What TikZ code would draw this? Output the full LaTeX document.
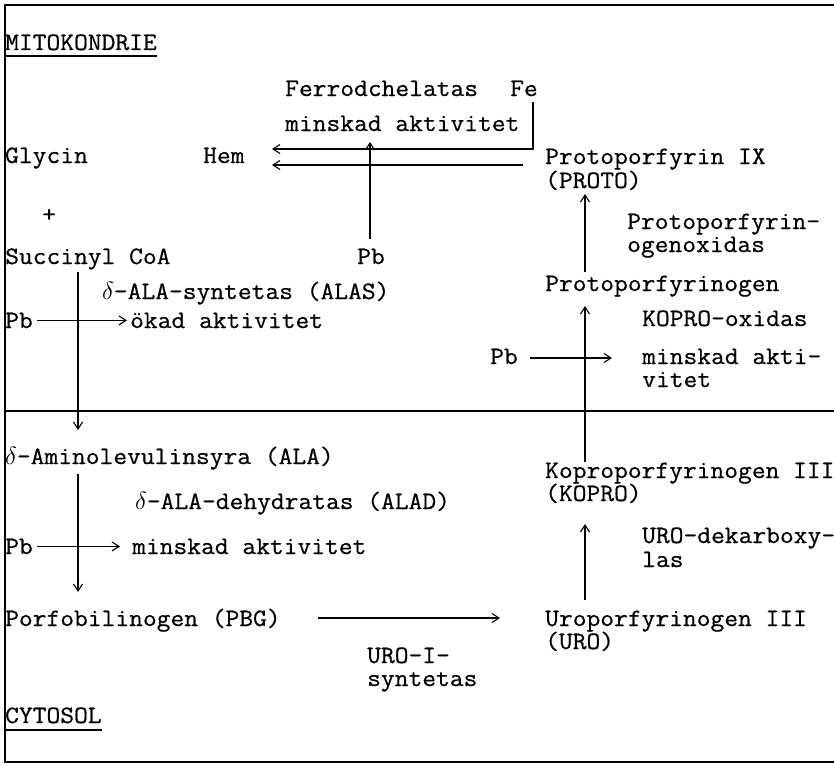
\documentclass[tikz,border=0pt]{standalone}
\usepackage{fontspec}
\newfontfamily\tw[FakeStretch=1.07,FakeBold=0.6]{Latin Modern Mono}
\usetikzlibrary{arrows.meta}
\begin{document}
\begin{tikzpicture}[x=1pt,y=-1pt,
  lbl/.style={anchor=base west, inner sep=0pt, font=\tw\fontsize{25}{27}\selectfont},
  border/.style={line width=1.8pt},
  arr/.style={line width=1.1pt, -{Straight Barb[length=7pt,width=9pt,line width=1.1pt]}},
  plain/.style={line width=1.1pt}]
\useasboundingbox[fill=white] (0,0) rectangle (834,765);
% frame
\draw[border] (834,5) -- (5,5) -- (5,762) -- (834,762);
\draw[border] (5,411) -- (834,411);
% texts
\node[lbl] (mito) at (5,50) {MITOKONDRIE};
\draw[plain] ([yshift=-6pt]mito.base west) -- ([yshift=-6pt]mito.base east);
\node[lbl] (ferro) at (285,96) {Ferrodchelatas};
\node[lbl] (fe) at (510,96) {Fe};
\node[lbl] (mink1) at (285,131) {minskad aktivitet};
\node[lbl] (glycin) at (5,163) {Glycin};
\node[lbl] (hem) at (203,163) {Hem};
\node[lbl] (proto) at (545,164) {Protoporfyrin IX};
\node[lbl] (protob) at (545,188) {(PROTO)};
\node[lbl] (plus) at (42,222) {+};
\node[lbl] (pb1) at (357,264) {Pb};
\node[lbl] (ppox1) at (627,229) {Protoporfyrin-};
\node[lbl] (ppox2) at (627,252) {ogenoxidas};
\node[lbl] (succ) at (5,264) {Succinyl CoA};
\node[lbl] (alas) at (102,299) {$\delta$-ALA-syntetas (ALAS)};
\node[lbl] (protogen) at (545,291) {Protoporfyrinogen};
\node[lbl] (pb2) at (5,328) {Pb};
\node[lbl] (okad) at (130,328) {ökad aktivitet};
\node[lbl] (koprox) at (642,326) {KOPRO-oxidas};
\node[lbl] (pb3) at (490,364) {Pb};
\node[lbl] (mink3a) at (642,364) {minskad akti-};
\node[lbl] (mink3b) at (642,387) {vitet};
\node[lbl] (ala) at (5,464) {$\delta$-Aminolevulinsyra (ALA)};
\node[lbl] (kopro) at (545,478) {Koproporfyrinogen III};
\node[lbl] (koprob) at (545,501) {(KOPRO)};
\node[lbl] (alad) at (135,509) {$\delta$-ALA-dehydratas (ALAD)};
\node[lbl] (urodek) at (642,543) {URO-dekarboxy-};
\node[lbl] (urodek2) at (642,567) {las};
\node[lbl] (pb4) at (5,554) {Pb};
\node[lbl] (mink4) at (132,554) {minskad aktivitet};
\node[lbl] (pbg) at (5,626) {Porfobilinogen (PBG)};
\node[lbl] (uro) at (545,626) {Uroporfyrinogen III};
\node[lbl] (urob) at (545,649) {(URO)};
\node[lbl] (uroi1) at (367,663) {URO-I-};
\node[lbl] (uroi2) at (367,686) {syntetas};
\node[lbl] (cyto) at (5,723) {CYTOSOL};
\draw[plain] ([yshift=-7pt]cyto.base west) -- ([yshift=-7pt]cyto.base east);
% coordinates for arrow ends
\coordinate (a1s) at (78,272);
\coordinate (a1e) at (78,430);
\coordinate (a2s) at (78,474);
\coordinate (a2e) at (78,592);
\coordinate (r1s) at (585,600);
\coordinate (r1e) at (585,524);
\coordinate (r2s) at (585,462);
\coordinate (r2e) at (585,306);
\coordinate (r3s) at (585,272);
\coordinate (r3e) at (585,194);
\coordinate (hemlo) at (523,165);
\coordinate (hemup) at (533,149);
\coordinate (hemtiplo) at (272,165);
\coordinate (hemtipup) at (272,149);
\coordinate (fecorner) at (533,102);
\coordinate (pbup) at (370,142);
\coordinate (pbrs) at (530,358);
\coordinate (pbre) at (612,358);
\coordinate (pbgs) at (318,618);
\coordinate (pbge) at (500,618);
% arrows
\draw[arr] (a1s) -- (a1e);
\draw[arr] (a2s) -- (a2e);
\draw[arr] (r1s) -- (r1e);
\draw[arr] (r2s) -- (r2e);
\draw[arr] (r3s) -- (r3e);
\draw[arr] (hemlo) -- (hemtiplo);
\draw[arr] (fecorner) -- (hemup) -- (hemtipup);
\draw[arr] ([yshift=10pt]pb1.north -| pbup) -- (pbup);
\draw[arr] ([xshift=4pt]pb2.east |- okad.center) -- ([xshift=-3pt]okad.west |- okad.center);
\draw[arr] ([xshift=4pt]pb4.east |- mink4.center) -- ([xshift=-12pt]mink4.west |- mink4.center);
\draw[arr] (pbrs) -- (pbre);
\draw[arr] (pbgs) -- (pbge);
\end{tikzpicture}
\end{document}
